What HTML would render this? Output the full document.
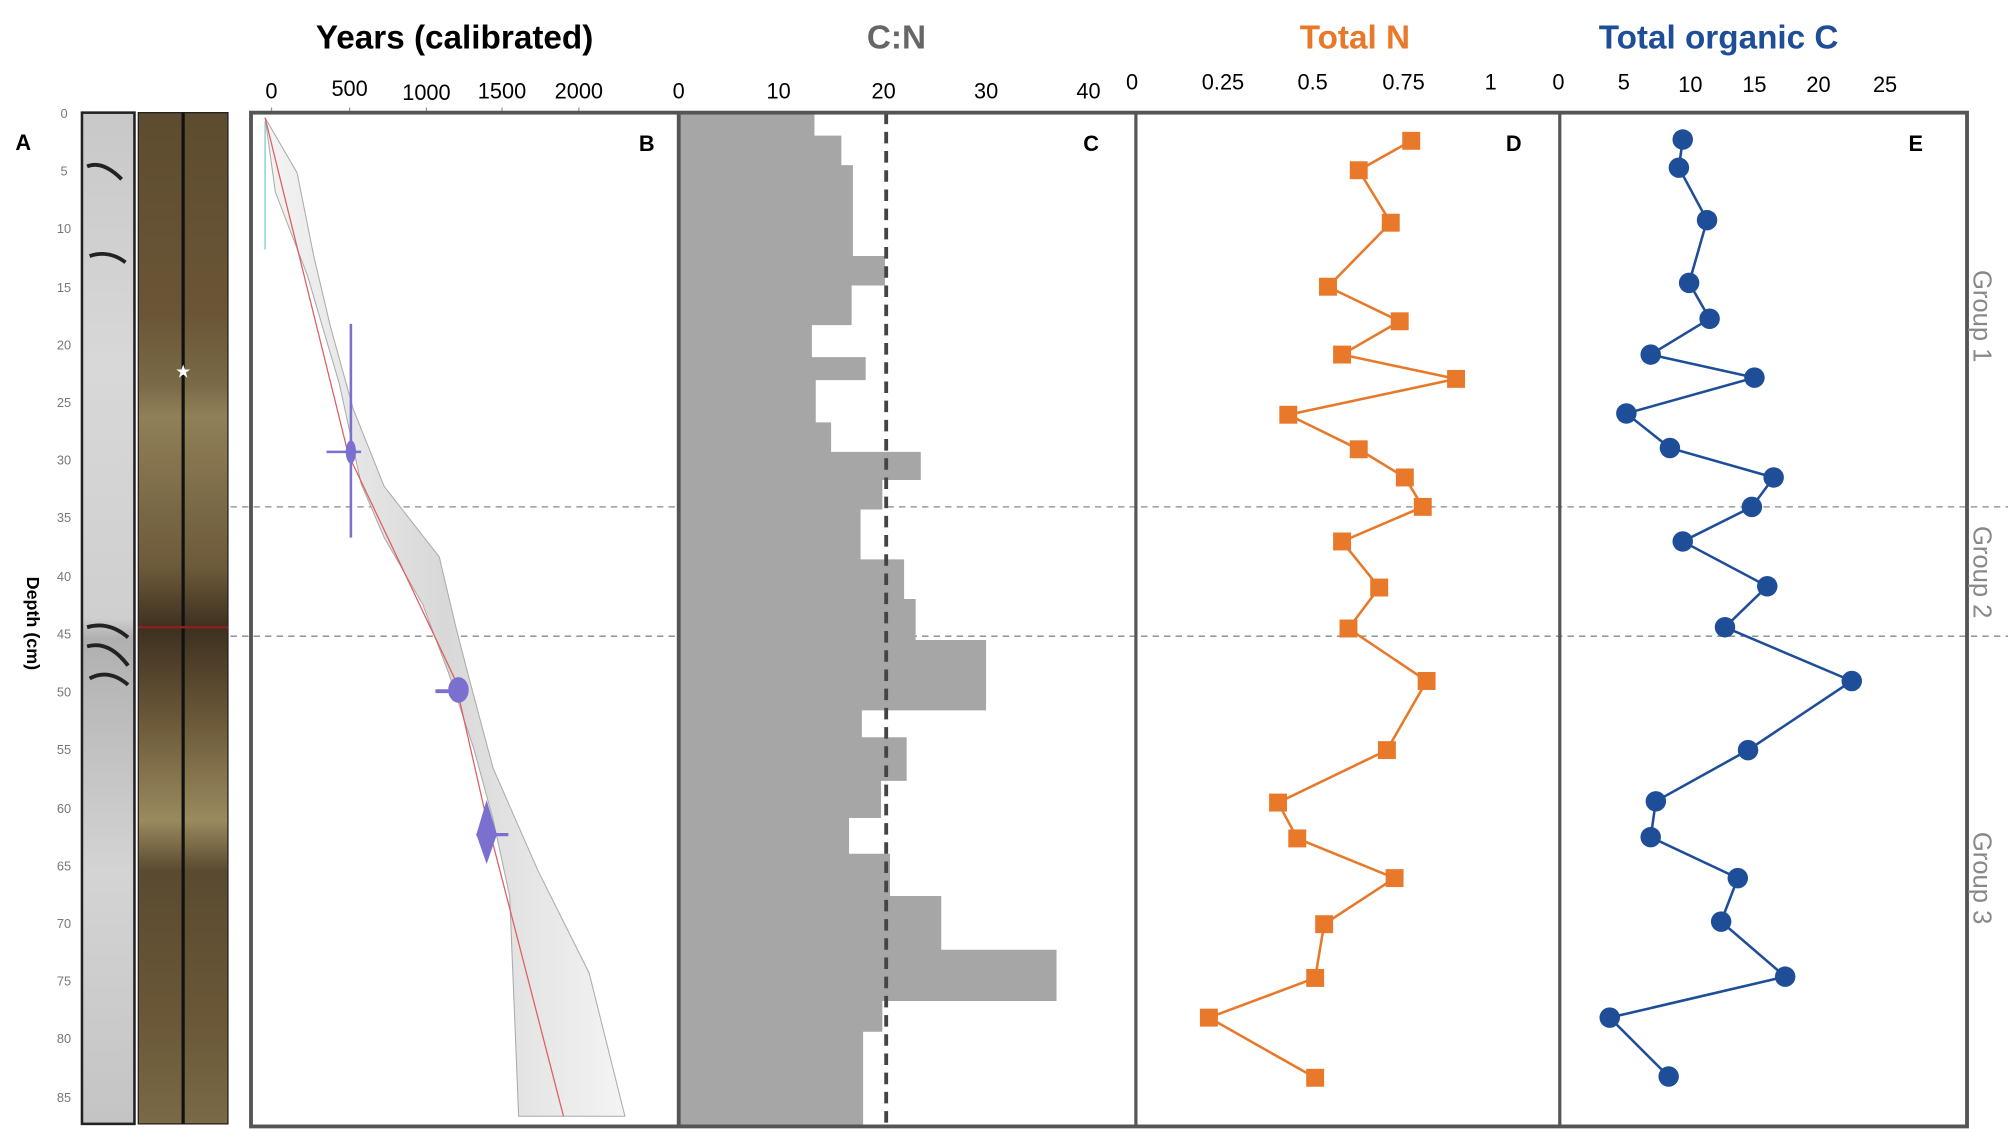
<!DOCTYPE html>
<html><head><meta charset="utf-8"><style>
html,body{margin:0;padding:0;background:#fff;}
svg{display:block;}
text{font-family:"Liberation Sans",sans-serif;}
</style></head><body>
<svg width="2008" height="1129" viewBox="0 0 1568 882" preserveAspectRatio="none" xmlns="http://www.w3.org/2000/svg">
<defs>
<linearGradient id="gs" x1="0" y1="0" x2="0" y2="1">
<stop offset="0" stop-color="#c8c8c8"/><stop offset="0.25" stop-color="#d8d8d8"/><stop offset="0.5" stop-color="#cfcfcf"/><stop offset="0.52" stop-color="#b0b0b0"/><stop offset="0.75" stop-color="#d4d4d4"/><stop offset="1" stop-color="#c4c4c4"/>
</linearGradient>
<linearGradient id="br" x1="0" y1="0" x2="0" y2="1">
<stop offset="0" stop-color="#5e4c30"/><stop offset="0.2" stop-color="#6a5636"/><stop offset="0.27" stop-color="#7a6a48"/><stop offset="0.3" stop-color="#908058"/><stop offset="0.45" stop-color="#6c5a3a"/><stop offset="0.51" stop-color="#3e3020"/><stop offset="0.6" stop-color="#6a5838"/><stop offset="0.7" stop-color="#9a8a5e"/><stop offset="0.75" stop-color="#5a4a30"/><stop offset="0.9" stop-color="#6a5838"/><stop offset="1" stop-color="#7a6a46"/>
</linearGradient>
<linearGradient id="env" x1="0" y1="0" x2="1" y2="0">
<stop offset="0" stop-color="#f4f4f4"/><stop offset="0.5" stop-color="#d8d8d8"/><stop offset="1" stop-color="#f4f4f4"/>
</linearGradient>
</defs>

<!-- Depth axis -->
<text x="12" y="117" font-size="17" font-weight="bold">A</text>
<text transform="translate(21,487) rotate(90)" font-size="14" font-weight="bold" text-anchor="middle">Depth (cm)</text>
<g font-size="10" fill="#777" text-anchor="middle">
<text x="50" y="92">0</text><text x="50" y="137">5</text><text x="50" y="182">10</text><text x="50" y="228">15</text><text x="50" y="273">20</text><text x="50" y="318">25</text><text x="50" y="363">30</text><text x="50" y="408">35</text><text x="50" y="454">40</text><text x="50" y="499">45</text><text x="50" y="544">50</text><text x="50" y="589">55</text><text x="50" y="635">60</text><text x="50" y="680">65</text><text x="50" y="725">70</text><text x="50" y="770">75</text><text x="50" y="815">80</text><text x="50" y="861">85</text>
</g>
<!-- core images -->
<rect x="64" y="88" width="41" height="790" fill="url(#gs)" stroke="#222" stroke-width="2"/>
<path d="M68 490 Q85 485 100 498 M68 505 Q85 500 100 520 M70 530 Q85 522 100 535 M68 130 Q80 125 95 140 M70 200 Q85 195 98 205" stroke="#222" stroke-width="3" fill="none"/>
<rect x="108" y="88" width="70" height="790" fill="url(#br)" stroke="#222" stroke-width="1"/>
<line x1="143" y1="88" x2="143" y2="878" stroke="#111" stroke-width="2.5"/>
<line x1="108" y1="490" x2="178" y2="490" stroke="#8a2020" stroke-width="2"/>
<text x="143" y="295" font-size="14" fill="#fff" text-anchor="middle">★</text>

<!-- Group dashed lines -->
<line x1="180" y1="396" x2="1568" y2="396" stroke="#888" stroke-width="1" stroke-dasharray="5,4"/>
<line x1="180" y1="497" x2="1568" y2="497" stroke="#888" stroke-width="1" stroke-dasharray="5,4"/>

<!-- B panel -->
<text x="355" y="38" font-size="26" font-weight="bold" text-anchor="middle">Years (calibrated)</text>
<g font-size="17" text-anchor="middle"><text x="212" y="77">0</text><text x="273" y="75">500</text><text x="333" y="78">1000</text><text x="392" y="77">1500</text><text x="452" y="77">2000</text></g>
<g stroke="#999" stroke-width="1"><line x1="212" y1="84" x2="212" y2="89"/><line x1="273" y1="84" x2="273" y2="89"/><line x1="333" y1="84" x2="333" y2="89"/><line x1="392" y1="84" x2="392" y2="89"/><line x1="452" y1="84" x2="452" y2="89"/></g>
<path d="M207 92 L232 135 L245 200 L258 255 L276 320 L300 380 L343 435 L356 490 L365 525 L385 600 L420 680 L460 760 L488 872 L405 872 L398 700 L385 640 L370 585 L350 525 L330 472 L300 420 L282 378 L265 300 L240 215 L215 150 Z" fill="url(#env)" stroke="#aaa" stroke-width="0.8"/>
<line x1="207" y1="95" x2="207" y2="195" stroke="#7cc" stroke-width="1"/>
<path d="M207 92 L272 355 L355 530 L380 640 L440 872" stroke="#e06060" stroke-width="1" fill="none"/>
<g fill="#7b70d0" stroke="#7b70d0">
<line x1="274" y1="253" x2="274" y2="420" stroke-width="2"/>
<line x1="255" y1="353" x2="282" y2="353" stroke-width="2"/>
<ellipse cx="274" cy="353" rx="4" ry="9" stroke="none"/>
<ellipse cx="358" cy="539" rx="8" ry="10" stroke="none"/>
<line x1="340" y1="540" x2="358" y2="540" stroke-width="3"/>
<path d="M380 625 L388 652 L380 675 L372 652 Z" stroke="none"/>
<line x1="372" y1="652" x2="397" y2="652" stroke-width="2.5"/>
</g>
<text x="505" y="118" font-size="17" font-weight="bold" text-anchor="middle">B</text>

<!-- C panel -->
<text x="700" y="38" font-size="26" font-weight="bold" fill="#666" text-anchor="middle">C:N</text>
<g font-size="17" text-anchor="middle"><text x="530" y="77">0</text><text x="608" y="77">10</text><text x="690" y="77">20</text><text x="770" y="77">30</text><text x="850" y="77">40</text></g>
<path fill="#a6a6a6" d="M530 88 H636 V106 H657 V129 H666 V200 H691 V223 H665 V254 H634 V279 H676 V297 H637 V330 H649 V353 H719 V375 H689 V398 H672 V437 H706 V468 H715 V500 H770 V555 H673 V576 H708 V610 H688 V639 H663 V667 H695 V700 H735 V742 H825 V782 H689 V806 H674 V880 H530 Z"/>
<line x1="692" y1="88" x2="692" y2="880" stroke="#444" stroke-width="3" stroke-dasharray="9,6"/>
<text x="852" y="118" font-size="17" font-weight="bold" text-anchor="middle">C</text>

<!-- D panel -->
<text x="1058" y="38" font-size="26" font-weight="bold" fill="#e8782a" text-anchor="middle">Total N</text>
<g font-size="17" text-anchor="middle"><text x="884" y="70">0</text><text x="955" y="70">0.25</text><text x="1025" y="70">0.5</text><text x="1096" y="70">0.75</text><text x="1164" y="70">1</text></g>
<polyline fill="none" stroke="#e8782a" stroke-width="2" points="1102,110 1061,133 1086,174 1037,224 1093,251 1048,277 1137,296 1006,324 1061,351 1097,373 1111,396 1048,423 1077,459 1053,491 1114,532 1083,586 998,627 1013,655 1089,686 1034,722 1027,764 944,795 1027,842"/>
<g fill="#e8782a">
<rect x="1095" y="103" width="14" height="14"/><rect x="1054" y="126" width="14" height="14"/><rect x="1079" y="167" width="14" height="14"/><rect x="1030" y="217" width="14" height="14"/><rect x="1086" y="244" width="14" height="14"/><rect x="1041" y="270" width="14" height="14"/><rect x="1130" y="289" width="14" height="14"/><rect x="999" y="317" width="14" height="14"/><rect x="1054" y="344" width="14" height="14"/><rect x="1090" y="366" width="14" height="14"/><rect x="1104" y="389" width="14" height="14"/><rect x="1041" y="416" width="14" height="14"/><rect x="1070" y="452" width="14" height="14"/><rect x="1046" y="484" width="14" height="14"/><rect x="1107" y="525" width="14" height="14"/><rect x="1076" y="579" width="14" height="14"/><rect x="991" y="620" width="14" height="14"/><rect x="1006" y="648" width="14" height="14"/><rect x="1082" y="679" width="14" height="14"/><rect x="1027" y="715" width="14" height="14"/><rect x="1020" y="757" width="14" height="14"/><rect x="937" y="788" width="14" height="14"/><rect x="1020" y="835" width="14" height="14"/>
</g>
<text x="1182" y="118" font-size="17" font-weight="bold" text-anchor="middle">D</text>

<!-- E panel -->
<text x="1342" y="38" font-size="26" font-weight="bold" fill="#1f4e99" text-anchor="middle">Total organic C</text>
<g font-size="17" text-anchor="middle"><text x="1217" y="70">0</text><text x="1268" y="70">5</text><text x="1320" y="72">10</text><text x="1370" y="72">15</text><text x="1420" y="72">20</text><text x="1472" y="72">25</text></g>
<polyline fill="none" stroke="#1f4e99" stroke-width="2" points="1314,109 1311,131 1333,172 1319,221 1335,249 1289,277 1370,295 1270,323 1304,350 1385,373 1368,396 1314,423 1380,458 1347,490 1446,532 1365,586 1293,626 1289,654 1357,686 1344,720 1394,763 1257,795 1303,841"/>
<g fill="#1f4e99">
<circle cx="1314" cy="109" r="8"/><circle cx="1311" cy="131" r="8"/><circle cx="1333" cy="172" r="8"/><circle cx="1319" cy="221" r="8"/><circle cx="1335" cy="249" r="8"/><circle cx="1289" cy="277" r="8"/><circle cx="1370" cy="295" r="8"/><circle cx="1270" cy="323" r="8"/><circle cx="1304" cy="350" r="8"/><circle cx="1385" cy="373" r="8"/><circle cx="1368" cy="396" r="8"/><circle cx="1314" cy="423" r="8"/><circle cx="1380" cy="458" r="8"/><circle cx="1347" cy="490" r="8"/><circle cx="1446" cy="532" r="8"/><circle cx="1365" cy="586" r="8"/><circle cx="1293" cy="626" r="8"/><circle cx="1289" cy="654" r="8"/><circle cx="1357" cy="686" r="8"/><circle cx="1344" cy="720" r="8"/><circle cx="1394" cy="763" r="8"/><circle cx="1257" cy="795" r="8"/><circle cx="1303" cy="841" r="8"/>
</g>
<text x="1496" y="118" font-size="17" font-weight="bold" text-anchor="middle">E</text>

<!-- frame -->
<rect x="196" y="88" width="1340" height="792" fill="none" stroke="#555" stroke-width="3"/>
<line x1="530" y1="88" x2="530" y2="880" stroke="#555" stroke-width="3"/>
<line x1="887" y1="88" x2="887" y2="880" stroke="#555" stroke-width="2.5"/>
<line x1="1218" y1="88" x2="1218" y2="880" stroke="#555" stroke-width="2.5"/>

<!-- group labels -->
<g font-size="20" fill="#888" text-anchor="middle">
<text transform="translate(1541,247) rotate(90)">Group 1</text>
<text transform="translate(1541,447) rotate(90)">Group 2</text>
<text transform="translate(1541,686) rotate(90)">Group 3</text>
</g>
</svg>
</body></html>
